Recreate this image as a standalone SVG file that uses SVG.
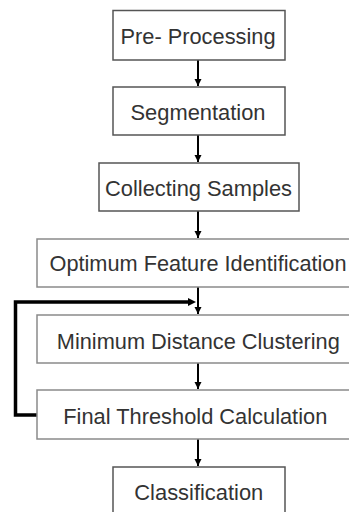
<svg xmlns="http://www.w3.org/2000/svg" width="349" height="512" viewBox="0 0 349 512">
<style>
.box{fill:#fff;stroke:#555;stroke-width:1.5}
.lbox{fill:#fff;stroke:#8a8a8a;stroke-width:1.5}
.t{font-family:"Liberation Sans",Arial,sans-serif;font-size:21.5px;fill:#333;text-anchor:middle}
.c{stroke:#000;stroke-width:2;fill:none}
.fb{stroke:#000;stroke-width:3.5;fill:none}
</style>
<defs>
<marker id="ah" markerWidth="8" markerHeight="8" refX="7" refY="4" orient="auto" markerUnits="userSpaceOnUse">
<path d="M0,0.5 L7,4 L0,7.5 Z" fill="#000"/>
</marker>
</defs>
<rect width="349" height="512" fill="#fff"/>
<g id="connectors">
<line class="c" x1="198" y1="60" x2="198" y2="86" marker-end="url(#ah)"/>
<line class="c" x1="198" y1="135" x2="198" y2="162" marker-end="url(#ah)"/>
<line class="c" x1="198" y1="211" x2="198" y2="238" marker-end="url(#ah)"/>
<line class="c" x1="198" y1="287" x2="198" y2="314" marker-end="url(#ah)"/>
<line class="c" x1="198" y1="363" x2="198" y2="389" marker-end="url(#ah)"/>
<line class="c" x1="198" y1="439" x2="198" y2="466" marker-end="url(#ah)"/>
<polyline class="fb" points="37,415 15.5,415 15.5,302 190,302"/>
<path d="M188,298 L196,302 L188,306 Z" fill="#000"/>
</g>
<g id="n1"><rect class="box" x="113" y="10.5" width="172" height="49.5"/><text class="t" x="198" y="43.5" textLength="155" lengthAdjust="spacingAndGlyphs">Pre- Processing</text></g>
<g id="n2"><rect class="box" x="113" y="87" width="172" height="48"/><text class="t" x="198" y="120" textLength="135" lengthAdjust="spacingAndGlyphs">Segmentation</text></g>
<g id="n3"><rect class="box" x="99" y="163" width="200" height="48"/><text class="t" x="198.5" y="196" textLength="187" lengthAdjust="spacingAndGlyphs">Collecting Samples</text></g>
<g id="n4"><rect class="lbox" x="37" y="239" width="320" height="48"/><text class="t" x="198" y="270.5" textLength="297" lengthAdjust="spacingAndGlyphs">Optimum Feature Identification</text></g>
<g id="n5"><rect class="lbox" x="37" y="315" width="320" height="48"/><text class="t" x="198.3" y="348.5" textLength="283" lengthAdjust="spacingAndGlyphs">Minimum Distance Clustering</text></g>
<g id="n6"><rect class="lbox" x="37" y="390" width="320" height="49"/><text class="t" x="195.3" y="424" textLength="264" lengthAdjust="spacingAndGlyphs">Final Threshold Calculation</text></g>
<g id="n7"><rect class="box" x="113" y="467" width="172" height="55"/><text class="t" x="198.8" y="499.5" textLength="129" lengthAdjust="spacingAndGlyphs">Classification</text></g>
</svg>
